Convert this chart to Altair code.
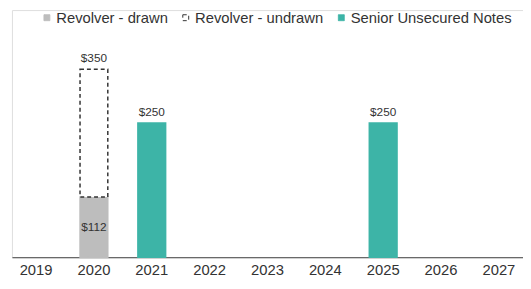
import altair as alt
import pandas as pd

years = ["2019", "2020", "2021", "2022", "2023", "2024", "2025", "2026", "2027"]
revolver_drawn = [0, 112, 0, 0, 0, 0, 0, 0, 0]
revolver_capacity = [0, 350, 0, 0, 0, 0, 0, 0, 0]
senior_notes = [0, 0, 250, 0, 0, 0, 250, 0, 0]

series = ["Revolver - drawn", "Revolver - undrawn", "Senior Unsecured Notes"]

rows = []
labels = []
for y, d, c, n in zip(years, revolver_drawn, revolver_capacity, senior_notes):
    if d > 0:
        rows.append({"year": y, "series": series[0], "start": 0, "end": d})
        labels.append({"year": y, "pos": d / 2, "text": f"${d}", "kind": "inside"})
    if c > d:
        rows.append({"year": y, "series": series[1], "start": d, "end": c})
        labels.append({"year": y, "pos": c, "text": f"${c}", "kind": "top"})
    if n > 0:
        rows.append({"year": y, "series": series[2], "start": 0, "end": n})
        labels.append({"year": y, "pos": n, "text": f"${n}", "kind": "top"})

bars_df = pd.DataFrame(rows)
labels_df = pd.DataFrame(labels)

FONT = "Liberation Sans"
TXT = "#333333"

x_enc = alt.X("year:N", sort=years, scale=alt.Scale(domain=years, paddingInner=0.52, paddingOuter=0.177),
              axis=alt.Axis(title=None, labelAngle=0, ticks=False, domainColor="#444444",
                            labelFontSize=15, labelColor=TXT, labelFont=FONT, labelPadding=6))
y_scale = alt.Scale(domain=[0, 460], nice=False)

bars = alt.Chart(bars_df).mark_bar(strokeWidth=1.5).encode(
    x=x_enc,
    y=alt.Y("start:Q", scale=y_scale, axis=None),
    y2="end:Q",
    fill=alt.Fill("series:N", scale=alt.Scale(domain=series, range=["#bdbdbd", "#ffffff", "#3db4a7"]),
                  legend=alt.Legend(title=None, orient="none", legendX=28, legendY=0, direction="horizontal",
                                    symbolType="square", symbolSize=36, labelFontSize=15, labelFont=FONT,
                                    labelColor=TXT, columnPadding=10, labelOffset=2, symbolStrokeWidth=1,
                                    labelLimit=300)),
    stroke=alt.Stroke("series:N", scale=alt.Scale(domain=series, range=["#bdbdbd", "#333333", "#3db4a7"]),
                      legend=None),
    strokeDash=alt.StrokeDash("series:N", scale=alt.Scale(domain=series, range=[[1, 0], [4, 3], [1, 0]]),
                              legend=None),
)

top_labels = alt.Chart(labels_df).transform_filter(alt.datum.kind == "top").mark_text(
    baseline="bottom", dy=-4, fontSize=12, font=FONT, color=TXT
).encode(x=alt.X("year:N", sort=years), y=alt.Y("pos:Q", scale=y_scale), text="text:N")

inside_labels = alt.Chart(labels_df).transform_filter(alt.datum.kind == "inside").mark_text(
    baseline="middle", fontSize=12, font=FONT, color=TXT
).encode(x=alt.X("year:N", sort=years), y=alt.Y("pos:Q", scale=y_scale), text="text:N")

chart = alt.layer(bars, top_labels, inside_labels).properties(
    width=523, height=272, padding={"left": 4, "top": 0, "right": 0, "bottom": 0},
    autosize=alt.AutoSizeParams(type="fit", contains="padding")
).configure_view(stroke=None).configure(background="#ffffff")

chart.save("out.html", embed_options={"renderer": "svg", "actions": False})
